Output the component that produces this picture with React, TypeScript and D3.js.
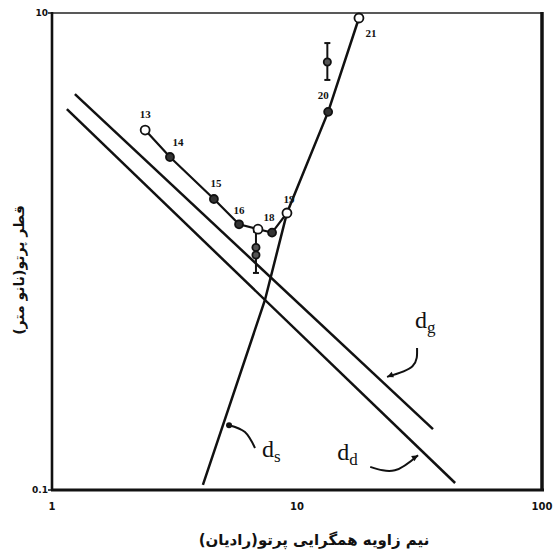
import React from "react";
import * as d3 from "d3";

// measured points (x: half angle, y: beam diameter)
const seriesLabels = ["13", "14", "15", "16", "17", "18", "19"];
const seriesX = [2.4, 3.03, 4.58, 5.8, 6.93, 7.91, 9.1];
const seriesY = [3.23, 2.49, 1.66, 1.3, 1.24, 1.2, 1.45];
const seriesOpen = [true, false, false, false, true, false, true];
const seriesShowLabel = [true, true, true, true, false, true, true];

// d_s line (steep), passes through 19, 20, 21
const dsX = [4.13, 7.4, 9.1, 13.4, 17.9];
const dsY = [0.105, 0.626, 1.45, 3.85, 9.53];
const dsPointLabels = ["20", "21"];
const dsPointX = [13.4, 17.9];
const dsPointY = [3.85, 9.53];
const dsPointOpen = [false, true];

// parallel lines
const dgX = [1.24, 35.9];
const dgY = [4.57, 0.18];
const ddX = [1.15, 44.2];
const ddY = [3.95, 0.107];

// error bars
const errX = [6.8, 13.3];
const errLo = [0.813, 5.24];
const errHi = [1.21, 7.48];
const errPointsX = [6.8, 6.8, 13.3];
const errPointsY = [1.04, 0.967, 6.23];

const xTicks = [1, 10, 100];
const yTicks = [0.1, 10];

// annotation anchors (data units)
const annNames = ["g", "d", "s"];
const annTextX = [30.3, 14.6, 7.2];
const annTextY = [0.478, 0.134, 0.1375];
const annArrowX = [
  [30.9, 29.6, 23.3],
  [19.9, 25.1, 31.2],
  [6.74, 6.13, 5.28],
];
const annArrowY = [
  [0.394, 0.33, 0.298],
  [0.125, 0.121, 0.14],
  [0.15, 0.175, 0.187],
];

const xTitle = "نیم زاویه همگرایی پرتو(رادیان)";
const yTitle = "قطر پرتو(نانو متر)";

const W = 555;
const H = 557;

export default function App() {
  const x = d3.scaleLog().domain([1, 100]).range([52, 542]);
  const y = d3.scaleLog().domain([0.1, 10]).range([490, 13]);

  const line = d3
    .line<[number, number]>()
    .x((d) => x(d[0]))
    .y((d) => y(d[1]));
  const curve = d3
    .line<[number, number]>()
    .x((d) => x(d[0]))
    .y((d) => y(d[1]))
    .curve(d3.curveNatural);

  const zip = (xs: number[], ys: number[]) =>
    xs.map((v, i) => [v, ys[i]] as [number, number]);

  const ink = "#111";
  const numFont = "'DejaVu Sans', sans-serif";
  const serif = "'Liberation Serif', 'Times New Roman', serif";
  const fa = "'DejaVu Sans', 'Noto Sans', sans-serif";

  const labelOffsets: Record<string, [number, number]> = {
    "13": [0, -12],
    "14": [8, -11],
    "15": [2, -12],
    "16": [0, -10],
    "18": [-3, -12],
    "19": [2, -10],
    "20": [-5, -13],
    "21": [12, 19],
  };

  return (
    <div>
      <style>{`body{margin:0;background:#fff}`}</style>
      <svg width={W} height={H} style={{ display: "block" }}>
        <rect width={W} height={H} fill="#fff" />

        {/* frame */}
        <line x1={x(1)} x2={x(100)} y1={y(10)} y2={y(10)} stroke="#222" strokeWidth={1.6} />
        <line x1={x(1)} x2={x(1)} y1={y(10) - 1} y2={y(0.1)} stroke={ink} strokeWidth={2.6} />
        <line x1={x(1) - 1} x2={x(100) + 2} y1={y(0.1)} y2={y(0.1)} stroke={ink} strokeWidth={3} />
        <line x1={x(100)} x2={x(100)} y1={y(10) - 1} y2={y(0.1)} stroke={ink} strokeWidth={3.5} />

        {/* ticks */}
        {yTicks.map((t) => (
          <g key={"yt" + t}>
            <line x1={x(1) - 4} x2={x(1)} y1={y(t)} y2={y(t)} stroke={ink} strokeWidth={1.5} />
            <text
              x={x(1) - 4}
              y={y(t) + 3}
              textAnchor="end"
              fontFamily={numFont}
              fontWeight="bold"
              fontSize={9}
              fill={ink}
            >
              {t}
            </text>
          </g>
        ))}
        {xTicks.map((t) => (
          <text
            key={"xt" + t}
            x={x(t)}
            y={510}
            textAnchor="middle"
            fontFamily={numFont}
            fontWeight="bold"
            fontSize={10}
            fill={ink}
          >
            {t}
          </text>
        ))}

        {/* parallel lines */}
        <path d={line(zip(dgX, dgY)) || ""} fill="none" stroke={ink} strokeWidth={2.5} />
        <path d={line(zip(ddX, ddY)) || ""} fill="none" stroke={ink} strokeWidth={2.5} />

        {/* steep line */}
        <path d={line(zip(dsX, dsY)) || ""} fill="none" stroke={ink} strokeWidth={2.5} />

        {/* connected series */}
        <path d={line(zip(seriesX, seriesY)) || ""} fill="none" stroke={ink} strokeWidth={2.2} />

        {/* error bars */}
        {errX.map((v, i) => (
          <g key={"eb" + i} stroke={ink} strokeWidth={2}>
            <line x1={x(v)} x2={x(v)} y1={y(errLo[i])} y2={y(errHi[i])} />
            <line x1={x(v) - 3} x2={x(v) + 3} y1={y(errLo[i])} y2={y(errLo[i])} />
            <line x1={x(v) - 3} x2={x(v) + 3} y1={y(errHi[i])} y2={y(errHi[i])} />
          </g>
        ))}
        {errPointsX.map((v, i) => (
          <circle
            key={"ep" + i}
            cx={x(v)}
            cy={y(errPointsY[i])}
            r={3.6}
            fill="#555"
            stroke={ink}
            strokeWidth={1.8}
          />
        ))}

        {/* series markers */}
        {seriesX.map((v, i) => (
          <circle
            key={"sp" + i}
            cx={x(v)}
            cy={y(seriesY[i])}
            r={seriesOpen[i] ? 4.5 : 4}
            fill={seriesOpen[i] ? "#fff" : "#333"}
            stroke={ink}
            strokeWidth={1.8}
          />
        ))}
        {dsPointX.map((v, i) => (
          <circle
            key={"dp" + i}
            cx={x(v)}
            cy={y(dsPointY[i])}
            r={dsPointOpen[i] ? 4.5 : 4}
            fill={dsPointOpen[i] ? "#fff" : "#333"}
            stroke={ink}
            strokeWidth={1.8}
          />
        ))}

        {/* point labels */}
        {seriesLabels.map((lab, i) =>
          seriesShowLabel[i] ? (
            <text
              key={"sl" + lab}
              x={x(seriesX[i]) + labelOffsets[lab][0]}
              y={y(seriesY[i]) + labelOffsets[lab][1]}
              textAnchor="middle"
              fontFamily={serif}
              fontWeight="bold"
              fontSize={11}
              fill={ink}
            >
              {lab}
            </text>
          ) : null
        )}
        {dsPointLabels.map((lab, i) => (
          <text
            key={"dl" + lab}
            x={x(dsPointX[i]) + labelOffsets[lab][0]}
            y={y(dsPointY[i]) + labelOffsets[lab][1]}
            textAnchor="middle"
            fontFamily={serif}
            fontWeight="bold"
            fontSize={11}
            fill={ink}
          >
            {lab}
          </text>
        ))}

        {/* annotations */}
        {annNames.map((nm, i) => {
          const pts = zip(annArrowX[i], annArrowY[i]);
          const end = pts[pts.length - 1];
          const prev = pts[pts.length - 2];
          const ang = Math.atan2(y(end[1]) - y(prev[1]), x(end[0]) - x(prev[0]));
          const ex = x(end[0]);
          const ey = y(end[1]);
          const head =
            nm === "s"
              ? null
              : `M${ex},${ey}L${ex - 7 * Math.cos(ang - 0.45)},${ey - 7 * Math.sin(ang - 0.45)}L${
                  ex - 7 * Math.cos(ang + 0.45)
                },${ey - 7 * Math.sin(ang + 0.45)}Z`;
          return (
            <g key={"ann" + nm}>
              <path d={curve(pts) || ""} fill="none" stroke={ink} strokeWidth={2} />
              {head ? <path d={head} fill={ink} /> : <circle cx={ex} cy={ey} r={3} fill={ink} />}
              <text
                x={x(annTextX[i])}
                y={y(annTextY[i])}
                fontFamily={serif}
                fontSize={24}
                fill={ink}
              >
                d
                <tspan fontSize={17} dy={5}>
                  {nm}
                </tspan>
              </text>
            </g>
          );
        })}

        {/* axis titles */}
        <text
          x={314}
          y={545}
          textAnchor="middle"
          fontFamily={fa}
          fontWeight="bold"
          fontSize={15}
          fill={ink}
          direction="rtl"
        >
          {xTitle}
        </text>
        <text
          transform="translate(24,270) rotate(-90)"
          textAnchor="middle"
          fontFamily={fa}
          fontWeight="bold"
          fontSize={14}
          fill={ink}
          direction="rtl"
        >
          {yTitle}
        </text>
      </svg>
    </div>
  );
}
